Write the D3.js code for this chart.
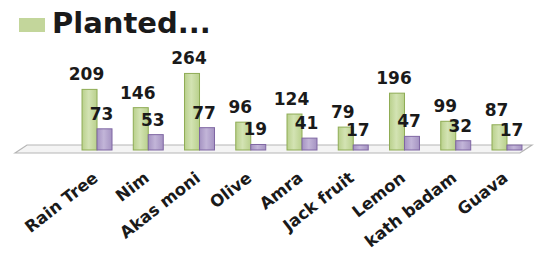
<!DOCTYPE html>
<html lang="en">
<head>
  <meta charset="UTF-8">
  <title>Planted trees</title>
  <style>
    body { margin: 0; background: #fff; }
    text { font-family: "DejaVu Sans", Verdana, sans-serif; font-weight: bold; fill: #1a1a1a; }
  </style>
</head>
<body>
  <svg width="537" height="254"></svg>
  <script src="https://d3js.org/d3.v7.min.js"></script>
  <script>
    const width = 537, height = 254;

    const categories = ["Rain Tree", "Nim", "Akas moni", "Olive", "Amra", "Jack fruit", "Lemon", "kath badam", "Guava"];
    const planted = [209, 146, 264, 96, 124, 79, 196, 99, 87];
    const survived = [73, 53, 77, 19, 41, 17, 47, 32, 17];
    const legendLabel = "Planted...";

    const svg = d3.select("svg");

    const x = d3.scaleBand()
      .domain(categories)
      .range([71.4, 532.6])
      .paddingInner(0.415)
      .paddingOuter(0.2075);

    const xSub = d3.scaleBand()
      .domain(["planted", "survived"])
      .range([0, x.bandwidth()]);

    const y = d3.scaleLinear().domain([0, 300]).range([150, 63]);

    // floor of the 3d plot
    svg.append("path")
      .attr("d", "M15,153 L27,145 L532,145 L520,153 Z")
      .attr("fill", "#f4f4f4")
      .attr("stroke", "#b5b5b5")
      .attr("stroke-width", 1.2);

    const grad = (id, c1, c2) => {
      const g = svg.append("defs").append("linearGradient").attr("id", id);
      g.append("stop").attr("offset", "0%").attr("stop-color", c1);
      g.append("stop").attr("offset", "45%").attr("stop-color", c2);
      g.append("stop").attr("offset", "100%").attr("stop-color", c1);
    };
    grad("gGreen", "#b9d08c", "#d3e3b3");
    grad("gPurple", "#a593c2", "#c2b5d8");

    const series = [
      { key: "planted", values: planted, fill: "url(#gGreen)", stroke: "#8fac55" },
      { key: "survived", values: survived, fill: "url(#gPurple)", stroke: "#7f67a3" }
    ];

    series.forEach(s => {
      svg.append("g")
        .selectAll("rect")
        .data(categories)
        .join("rect")
        .attr("x", d => x(d) + xSub(s.key))
        .attr("y", (d, i) => y(s.values[i]))
        .attr("width", xSub.bandwidth())
        .attr("height", (d, i) => y(0) - y(s.values[i]))
        .attr("fill", s.fill)
        .attr("stroke", s.stroke)
        .attr("stroke-width", 1);
    });

    series.forEach(s => {
      svg.append("g")
        .selectAll("text")
        .data(categories)
        .join("text")
        .attr("x", d => x(d) + xSub(s.key) + xSub.bandwidth() / 2 - 3)
        .attr("y", (d, i) => y(s.values[i]) - 9)
        .attr("text-anchor", "middle")
        .attr("font-size", 17)
        .text((d, i) => s.values[i]);
    });

    // category labels
    svg.append("g")
      .selectAll("text")
      .data(categories)
      .join("text")
      .attr("transform", d => `translate(${x(d) + x.bandwidth() / 2 + 2},180) rotate(-38)`)
      .attr("text-anchor", "end")
      .attr("font-size", 16.5)
      .text(d => d);

    // legend
    svg.append("rect")
      .attr("x", 19).attr("y", 18)
      .attr("width", 26).attr("height", 14)
      .attr("fill", "#c3d69b");
    svg.append("text")
      .attr("x", 52).attr("y", 33)
      .attr("font-size", 29)
      .text(legendLabel);
  </script>
</body>
</html>
